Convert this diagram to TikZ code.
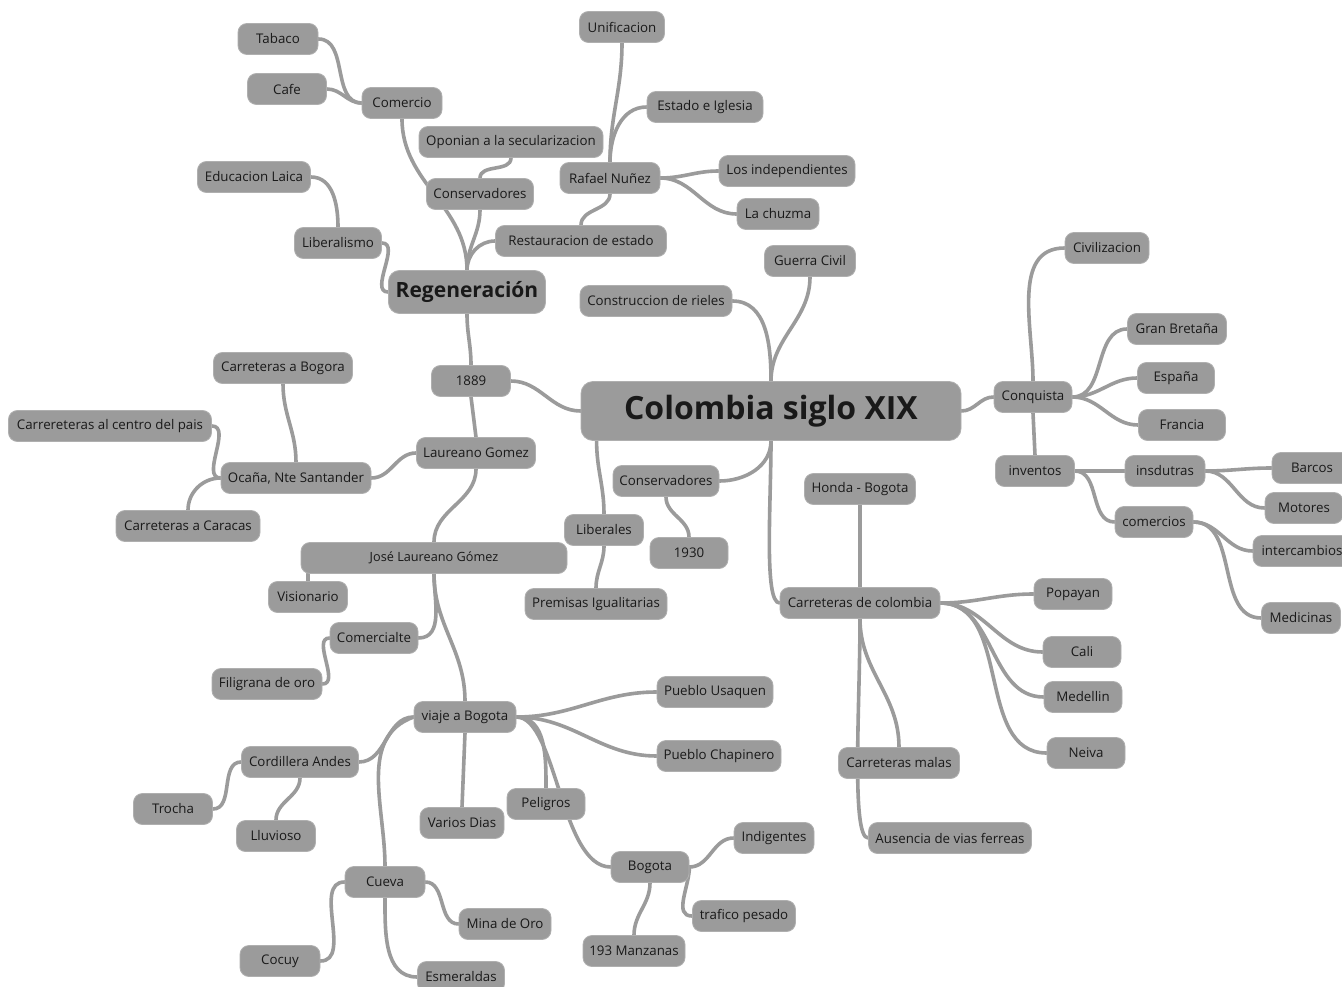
\documentclass[tikz,border=0pt]{standalone}
\usepackage{fontspec}
\setmainfont{Open Sans}
\usetikzlibrary{backgrounds,calc}
\definecolor{boxfill}{RGB}{155,155,155}
\definecolor{boxline}{RGB}{175,175,175}
\definecolor{boxtext}{RGB}{25,25,25}
\definecolor{linegray}{RGB}{155,155,155}
\tikzset{
  box/.style={draw=boxline, line width=0.8pt, fill=boxfill, rounded corners=9pt,
    minimum height=31pt, minimum width=78pt, inner xsep=5pt, text=boxtext,
    font=\fontsize{13.3}{15}\selectfont},
  conn/.style={draw=linegray, line width=3.6pt, line cap=round},
}
\begin{document}
\begin{tikzpicture}[x=1pt,y=-1pt]
\useasboundingbox (0,0) rectangle (1342,987);
\clip (0,0) rectangle (1342,987);
% nodes
\node[box, minimum width=380pt, minimum height=59pt, rounded corners=12pt, font=\bfseries\fontsize{32}{36}\selectfont] (root) at (771,411) {Colombia siglo XIX};
\node[box, minimum width=157pt, minimum height=43pt, rounded corners=11pt, font=\bfseries\fontsize{21}{25}\selectfont] (reg) at (467,292) {Regeneración};
\node[box, minimum width=80pt] (tabaco) at (278,39) {Tabaco};
\node[box, minimum width=79pt] (cafe) at (287,89) {Cafe};
\node[box, minimum width=80pt] (comercio) at (402,103) {Comercio};
\node[box, minimum width=85pt] (unif) at (622,27) {Unificacion};
\node[box, minimum width=116pt] (estado) at (705,107) {Estado e Iglesia};
\node[box, minimum width=184pt] (oponian) at (511,142) {Oponian a la secularizacion};
\node[box, minimum width=100pt] (rafael) at (610,178) {Rafael Nuñez};
\node[box, minimum width=136pt] (indep) at (787,171) {Los independientes};
\node[box, minimum width=82pt] (chuzma) at (778,214) {La chuzma};
\node[box, minimum width=113pt] (educ) at (254,177) {Educacion Laica};
\node[box, minimum width=107pt] (cons) at (480,194) {Conservadores};
\node[box, minimum width=171pt] (rest) at (581,241) {Restauracion de estado};
\node[box, minimum width=87pt] (lib) at (338,243) {Liberalismo};
\node[box, minimum width=152pt] (rieles) at (656,301) {Construccion de rieles};
\node[box, minimum width=91pt] (guerra) at (810,261) {Guerra Civil};
\node[box, minimum width=84pt] (civil) at (1107,248) {Civilizacion};
\node[box, minimum width=99pt] (gb) at (1177,329) {Gran Bretaña};
\node[box, minimum width=77pt] (espana) at (1176,378) {España};
\node[box, minimum width=78pt] (conq) at (1033,397) {Conquista};
\node[box, minimum width=87pt] (francia) at (1182,425) {Francia};
\node[box, minimum width=79pt] (inv) at (1035,471) {inventos};
\node[box, minimum width=80pt] (insd) at (1165,471) {insdutras};
\node[box, minimum width=80pt] (barcos) at (1312,468) {Barcos};
\node[box, minimum width=78pt] (motores) at (1304,508) {Motores};
\node[box, minimum width=78pt] (comercios) at (1154,522) {comercios};
\node[box, minimum width=98pt] (interc) at (1302,551) {intercambios};
\node[box, minimum width=79pt] (medic) at (1301,618) {Medicinas};
\node[box, minimum width=79pt] (y1889) at (471,381) {1889};
\node[box, minimum width=139pt] (bogora) at (283,368) {Carreteras a Bogora};
\node[box, minimum width=203pt] (centro) at (110,426) {Carrereteras al centro del pais};
\node[box, minimum width=150pt] (ocana) at (296,478) {Ocaña, Nte Santander};
\node[box, minimum width=119pt] (laur) at (476,453) {Laureano Gomez};
\node[box, minimum width=144pt] (caracas) at (188,526) {Carreteras a Caracas};
\node[box, minimum width=266pt, font=\fontsize{12.7}{14}\selectfont] (jlg) at (434,558) {José Laureano Gómez};
\node[box, minimum width=79pt] (vision) at (308,597) {Visionario};
\node[box, minimum width=106pt] (cons2) at (666,481) {Conservadores};
\node[box, minimum width=79pt] (liberales) at (604,530) {Liberales};
\node[box, minimum width=78pt] (y1930) at (689,553) {1930};
\node[box, minimum width=142pt] (premisas) at (596,604) {Premisas Igualitarias};
\node[box, minimum width=111pt] (honda) at (860,489) {Honda - Bogota};
\node[box, minimum width=160pt] (carr) at (860,603) {Carreteras de colombia};
\node[box, minimum width=78pt] (popayan) at (1073,594) {Popayan};
\node[box, minimum width=78pt] (cali) at (1082,652) {Cali};
\node[box, minimum width=78pt] (medellin) at (1083,697) {Medellin};
\node[box, minimum width=78pt] (neiva) at (1086,753) {Neiva};
\node[box, minimum width=121pt] (malas) at (899,763) {Carreteras malas};
\node[box, minimum width=163pt] (ausencia) at (950,838) {Ausencia de vias ferreas};
\node[box, minimum width=88pt] (comercialte) at (374,638) {Comercialte};
\node[box, minimum width=110pt] (filigrana) at (267,684) {Filigrana de oro};
\node[box, minimum width=102pt] (viaje) at (465,717) {viaje a Bogota};
\node[box, minimum width=116pt] (usaquen) at (715,692) {Pueblo Usaquen};
\node[box, minimum width=124pt] (chapinero) at (719,756) {Pueblo Chapinero};
\node[box, minimum width=117pt] (cordillera) at (300,762) {Cordillera Andes};
\node[box, minimum width=79pt] (trocha) at (173,809) {Trocha};
\node[box, minimum width=79pt] (lluvioso) at (276,836) {Lluvioso};
\node[box, minimum width=84pt] (varios) at (462,823) {Varios Dias};
\node[box, minimum width=78pt] (peligros) at (546,804) {Peligros};
\node[box, minimum width=78pt] (bogota) at (650,867) {Bogota};
\node[box, minimum width=80pt] (indig) at (774,838) {Indigentes};
\node[box, minimum width=103pt] (trafico) at (744,916) {trafico pesado};
\node[box, minimum width=102pt] (manzanas) at (634,951) {193 Manzanas};
\node[box, minimum width=80pt] (cueva) at (385,882) {Cueva};
\node[box, minimum width=92pt] (mina) at (505,924) {Mina de Oro};
\node[box, minimum width=80pt] (cocuy) at (280,961) {Cocuy};
\node[box, minimum width=87pt] (esmer) at (461,977) {Esmeraldas};
% connectors
\begin{pgfonlayer}{background}
\fill[white] (0,0) rectangle (1342,987);
\draw[conn] (root.east) to[out=0,in=180] (conq.west);
\draw[conn] (conq.north) to[out=90,in=180] (civil.west);
\draw[conn] (conq.east) to[out=0,in=180] (gb.west);
\draw[conn] (conq.east) to[out=0,in=180] (espana.west);
\draw[conn] (conq.east) to[out=0,in=180] (francia.west);
\draw[conn] (conq.south) -- (inv.north);
\draw[conn] (inv.east) to[out=0,in=180] (insd.west);
\draw[conn] (inv.east) to[out=0,in=180] (comercios.west);
\draw[conn] (insd.east) to[out=0,in=180] (barcos.west);
\draw[conn] (insd.east) to[out=0,in=180] (motores.west);
\draw[conn] (comercios.east) to[out=0,in=180] (interc.west);
\draw[conn] (comercios.east) to[out=0,in=180] (medic.west);
\draw[conn] (root.north) to[out=90,in=270] (guerra.south);
\draw[conn] (root.north) to[out=90,in=0] (rieles.east);
\draw[conn] (root.west) to[out=180,in=0] (y1889.east);
\draw[conn] (y1889.north) to[out=90,in=270] (reg.south);
\draw[conn] (reg.north) to[out=90,in=270] (comercio.south);
\draw[conn] (reg.north) to[out=90,in=270] (cons.south);
\draw[conn] (reg.north) to[out=90,in=180] (rest.west);
\draw[conn] (cons.north) to[out=90,in=270] (oponian.south);
\draw[conn] (comercio.west) to[out=180,in=0] (tabaco.east);
\draw[conn] (comercio.west) to[out=180,in=0] (cafe.east);
\draw[conn] (rest.north) to[out=90,in=270] (rafael.south);
\draw[conn] (rafael.north) to[out=90,in=270] (unif.south);
\draw[conn] (rafael.north) to[out=90,in=180] (estado.west);
\draw[conn] (rafael.east) to[out=0,in=180] (indep.west);
\draw[conn] (rafael.east) to[out=0,in=180] (chuzma.west);
\draw[conn] (reg.west) to[out=180,in=0] (lib.east);
\draw[conn] (lib.north) to[out=90,in=0] (educ.east);
\draw[conn] (y1889.south) -- (laur.north);
\draw[conn] (laur.west) to[out=180,in=0] (ocana.east);
\draw[conn] (ocana.north) to[out=90,in=270] (bogora.south);
\draw[conn] (ocana.west) to[out=180,in=0] (centro.east);
\draw[conn] (ocana.west) to[out=180,in=90] (caracas.north);
\draw[conn] (laur.south) to[out=270,in=90] (jlg.north);
\draw[conn] (vision.north) -- (vision.north |- jlg.south);
\draw[conn] (jlg.south) to[out=270,in=0] (comercialte.east);
\draw[conn] (comercialte.west) to[out=180,in=0] (filigrana.east);
\draw[conn] (jlg.south) to[out=270,in=90] (viaje.north);
\draw[conn] (viaje.east) to[out=0,in=180] (usaquen.west);
\draw[conn] (viaje.east) to[out=0,in=180] (chapinero.west);
\draw[conn] (viaje.east) to[out=0,in=90] (peligros.north);
\draw[conn] (viaje.east) .. controls +(40pt,0pt) and +(-50pt,0pt) .. (bogota.west);
\draw[conn] (viaje.west) to[out=180,in=0] (cordillera.east);
\draw[conn] (cordillera.west) to[out=180,in=0] (trocha.east);
\draw[conn] (cordillera.south) to[out=270,in=90] (lluvioso.north);
\draw[conn] (viaje.south) -- (varios.north);
\draw[conn] (viaje.west) to[out=200,in=90] (cueva.north);
\draw[conn] (cueva.east) to[out=0,in=180] (mina.west);
\draw[conn] (cueva.west) to[out=180,in=0] (cocuy.east);
\draw[conn] (cueva.south) to[out=270,in=180] (esmer.west);
\draw[conn] (bogota.east) to[out=0,in=180] (indig.west);
\draw[conn] (bogota.east) to[out=270,in=180] (trafico.west);
\draw[conn] (bogota.south) to[out=270,in=90] (manzanas.north);
\draw[conn] (root.south) to[out=270,in=0] (cons2.east);
\draw[conn] (cons2.south) to[out=270,in=90] (y1930.north);
\draw[conn] ($(root.south west)+(16pt,0pt)$) to[out=270,in=90] (liberales.north);
\draw[conn] (liberales.south) to[out=270,in=90] (premisas.north);
\draw[conn] (root.south) to[out=270,in=180,in looseness=0.25] (carr.west);
\draw[conn] (carr.north) -- (honda.south);
\draw[conn] (carr.south) to[out=270,in=90] (malas.north);
\draw[conn] (carr.south) to[out=270,in=180,in looseness=0.2] (ausencia.west);
\draw[conn] (carr.east) to[out=0,in=180] (popayan.west);
\draw[conn] (carr.east) to[out=0,in=180] (cali.west);
\draw[conn] (carr.east) to[out=0,in=180] (medellin.west);
\draw[conn] (carr.east) to[out=0,in=180] (neiva.west);
\end{pgfonlayer}
\end{tikzpicture}
\end{document}
